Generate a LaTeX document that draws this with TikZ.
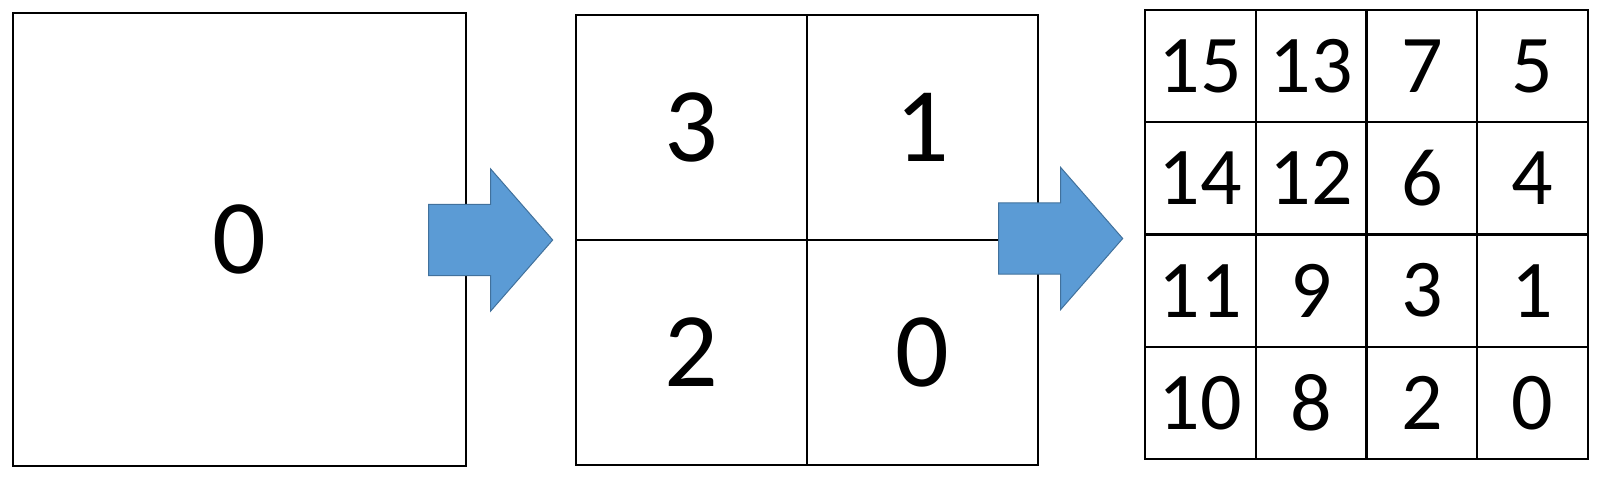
\documentclass[tikz,border=0pt]{standalone}
\usepackage{fontspec}
\setmainfont{Carlito}
\definecolor{arrowfill}{HTML}{5B9BD5}
\definecolor{arrowedge}{HTML}{41719C}
\begin{document}
\begin{tikzpicture}[x=1pt,y=-1pt,
  boxline/.style={draw=black, line width=2.2pt, inner sep=0pt},
  bigbox/.style={boxline, minimum width=453pt, minimum height=453pt, font=\fontsize{106}{106}\selectfont},
  midcell/.style={boxline, minimum width=231pt, minimum height=225.2pt, font=\fontsize{106}{106}\selectfont},
  smallcell/.style={boxline, minimum width=110.75pt, minimum height=112.25pt, font=\fontsize{82}{82}\selectfont},
  blockarrow/.style={fill=arrowfill, draw=arrowedge, line width=1pt, line join=miter}]
\useasboundingbox (0,0) rectangle (1602,478);
% first square
\node[bigbox] (b0) at (239.5,239.5) {0};
% second square, 2x2
\node[midcell] (m3) at (691.5,127.4) {3};
\node[midcell] (m1) at (922.5,127.4) {1};
\node[midcell] (m2) at (691.5,352.6) {2};
\node[midcell] (m0) at (922.5,352.6) {0};
% third square, 4x4
\foreach \r/\a/\b/\c/\d in {0/15/13/7/5, 1/14/12/6/4, 2/11/9/3/1, 3/10/8/2/0}{
  \foreach \col/\v in {0/\a, 1/\b, 2/\c, 3/\d}{
    \node[smallcell] (s\r\col) at ({1200.375+110.75*\col},{66.125+112.25*\r}) {\v};
  }
}
% block arrows
\coordinate (a1) at (428.7,240);
\coordinate (a2) at (998.7,238.5);
\foreach \p in {a1,a2}{
  \draw[blockarrow, shift={(\p)}] (0,-35.5) -- (62,-35.5) -- (62,-71) -- (124,0)
    -- (62,71) -- (62,35.5) -- (0,35.5) -- cycle;
}
\end{tikzpicture}
\end{document}
